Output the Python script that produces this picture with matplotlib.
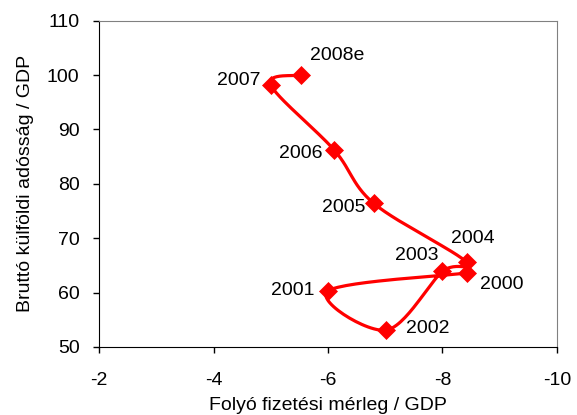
import numpy as np
import matplotlib.pyplot as plt

plt.rcParams['font.family'] = ['Liberation Sans', 'DejaVu Sans']
plt.rcParams['axes.unicode_minus'] = False

years = ['2000', '2001', '2002', '2003', '2004', '2005', '2006', '2007', '2008e']
current_account = [-8.42, -6.0, -7.02, -8.0, -8.42, -6.8, -6.11, -5.0, -5.53]
gross_debt = [63.6, 60.3, 53.1, 63.9, 65.6, 76.4, 86.2, 98.2, 100.0]

# label offsets in pixels (dx, dy, horizontal alignment)
label_pos = {
    '2000': (13, -11, 'left'),
    '2001': (-13, 0, 'right'),
    '2002': (20, 2, 'left'),
    '2003': (-26, 16, 'center'),
    '2004': (6, 24, 'center'),
    '2005': (-8, -4, 'right'),
    '2006': (-12, -3, 'right'),
    '2007': (-10, 4, 'right'),
    '2008e': (36, 20, 'center'),
}


def smooth(xs, ys, sx, sy, n=30):
    # Catmull-Rom style bezier through the points, computed in scaled units
    p = np.column_stack([np.asarray(xs) / sx, np.asarray(ys) / sy])
    out = [p[0]]
    for i in range(len(p) - 1):
        p0 = p[i - 1] if i > 0 else p[i]
        p1, p2 = p[i], p[i + 1]
        p3 = p[i + 2] if i + 2 < len(p) else p[i + 1]
        c1 = p1 + (p2 - p0) / 6
        c2 = p2 - (p3 - p1) / 6
        t = np.linspace(0, 1, n)[1:, None]
        seg = ((1 - t) ** 3) * p1 + 3 * ((1 - t) ** 2) * t * c1 + 3 * (1 - t) * t ** 2 * c2 + t ** 3 * p2
        out.extend(seg)
    out = np.array(out)
    return out[:, 0] * sx, out[:, 1] * sy


fig = plt.figure(figsize=(5.77, 4.15), dpi=100)
ax = fig.add_axes([0.1716, 0.164, 0.7937, 0.786])

# scale so the curve is smoothed in screen proportions
sx, sy = 8 / 458, 60 / 326
cx, cy = smooth(current_account, gross_debt, sx, sy)
ax.plot(cx, cy, color='#ff0000', lw=2.3, solid_capstyle='round', zorder=2)
ax.plot(current_account, gross_debt, ls='none', marker='D', ms=9.5,
        color='#ff0000', mec='#ff0000', mew=0.5, zorder=3)

for yr, x, y in zip(years, current_account, gross_debt):
    dx, dy, ha = label_pos[yr]
    ax.annotate(yr, (x, y), xytext=(dx, dy), textcoords='offset pixels',
                ha=ha, va='center', fontsize=14)

ax.set_xlim(-2, -10)
ax.set_ylim(50, 110)
ax.set_xticks([-2, -4, -6, -8, -10])
ax.set_yticks(range(50, 111, 10))
ax.tick_params(direction='out', length=4, width=1, labelsize=14)
ax.tick_params(axis='y', pad=10)
ax.tick_params(axis='x', pad=14)

for side in ['top', 'right']:
    ax.spines[side].set_color('#808080')
for side in ['left', 'bottom']:
    ax.spines[side].set_color('black')

ax.set_xlabel('Folyó fizetési mérleg / GDP', fontsize=14, labelpad=6)
ax.set_ylabel('Bruttó külföldi adósság / GDP', fontsize=14, labelpad=9)

fig.savefig('out.png', dpi=100)
